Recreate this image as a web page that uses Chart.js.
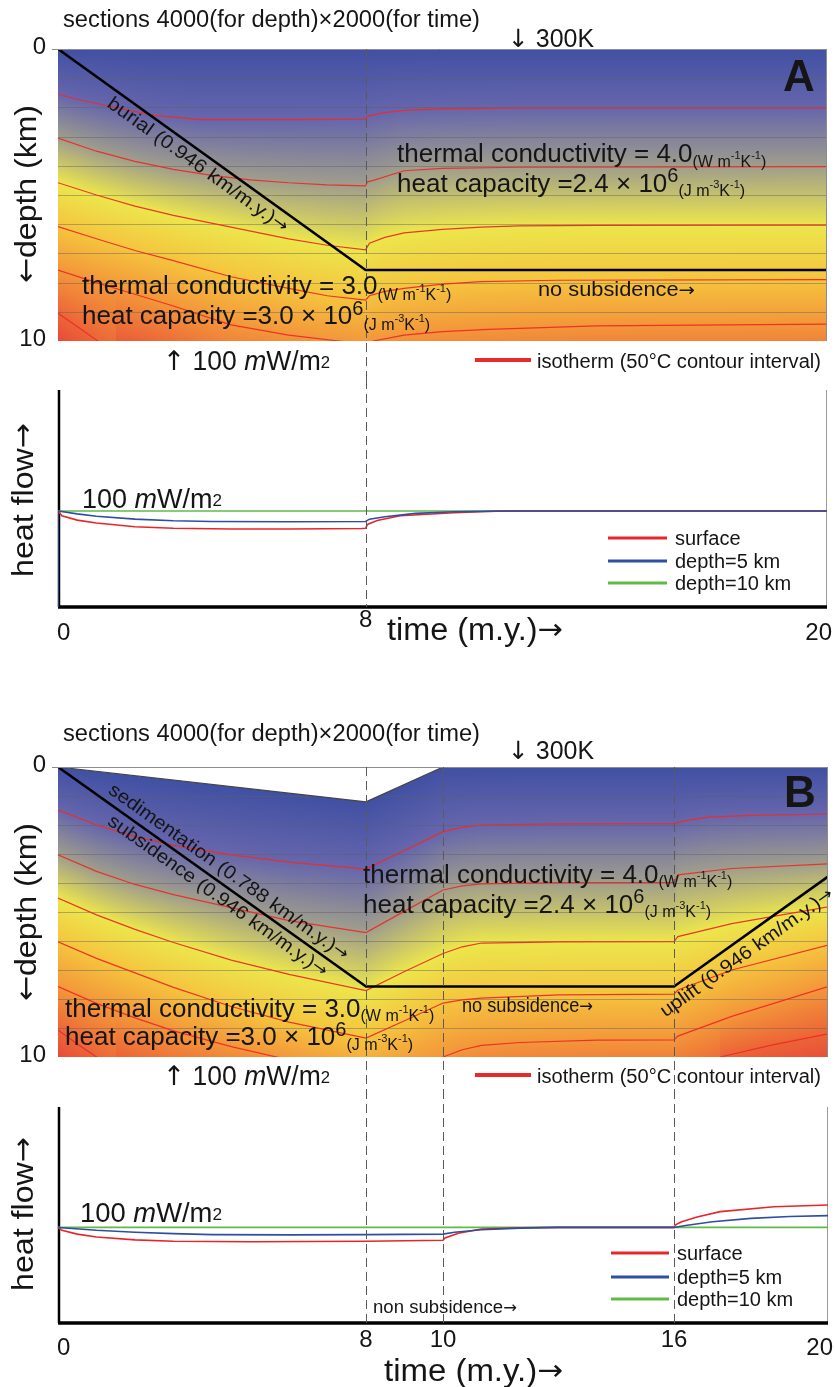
<!DOCTYPE html>
<html>
<head>
<meta charset="utf-8">
<script src="https://cdn.jsdelivr.net/npm/chart.js@4.4.1/dist/chart.umd.min.js"></script>
<style>
  html, body { margin: 0; padding: 0; background: #fff; }
  #page { position: relative; width: 835px; height: 1387px; overflow: hidden; }
  canvas { position: absolute; left: 0; }
</style>
</head>
<body>
<div id="page">
  <canvas id="depthA" width="835" height="380" style="top:0px"></canvas>
  <canvas id="flowA" width="835" height="300" style="top:380px"></canvas>
  <canvas id="depthB" width="835" height="410" style="top:680px"></canvas>
  <canvas id="flowB" width="835" height="297" style="top:1090px"></canvas>
</div>
<script>
// ---- panel A : isotherms, [time (m.y.), depth (km)] ----
const isoA1 = [[0,1.54],[0.5,1.72],[1.35,1.97],[2.5,2.27],[3.7,2.42],[6,2.42],[8,2.4],[8.05,2.3],[8.5,2.18],[9,2.1],[10,2.05],[12,2.02],[20,2.02]];
const isoA2 = [[0,3.05],[1,3.5],[2,3.85],[3,4.12],[4,4.33],[5,4.48],[6,4.58],[7,4.65],[8,4.69],[8.05,4.55],[8.2,4.5],[9,4.17],[10,4.09],[12,4.05],[20,4.03]];
const isoA3 = [[0,4.58],[1,5.0],[2,5.38],[3,5.7],[4.5,6.1],[6,6.5],[7,6.72],[8,6.88],[8.1,6.65],[8.5,6.45],[9,6.3],[10,6.18],[11,6.1],[12,6.06],[14,6.04],[20,6.03]];
const isoA4 = [[0,6.08],[1,6.5],[2,6.9],[3,7.25],[4.5,7.8],[6,8.2],[7,8.45],[8,8.6],[8.1,8.45],[8.5,8.3],[9,8.2],[10,8.05],[11,7.97],[13,7.92],[20,7.9]];
const isoA5 = [[0,7.57],[1,8.0],[2,8.4],[3,8.8],[4.5,9.45],[6,9.8],[7.3,10.0],[8,10.1],[8.2,10.0],[9,9.8],[10,9.68],[11.2,9.6],[14,9.48],[20,9.42]];
const isoA6 = [[0,9.05],[0.5,9.5],[1,9.97],[1.5,10.4]];
const burialA = [[0,0],[8,7.57],[20,7.57]];

// ---- panel B : isotherms ----
const isoB1 = [[0,1.48],[1,2.0],[2,2.4],[3,2.7],[4.5,3.03],[6,3.28],[8,3.52],[9,2.88],[10,2.23],[10.5,2.08],[11,2.0],[13,1.96],[16,1.95],[16.3,1.85],[16.9,1.73],[18,1.67],[20,1.62]];
const isoB2 = [[0,3.03],[1,3.6],[2,4.05],[3,4.4],[4.5,4.85],[6,5.3],[8,5.71],[9,4.97],[10,4.24],[10.5,4.1],[11,4.03],[13,3.99],[16,3.98],[16.1,3.72],[17.5,3.5],[20,3.34]];
const isoB3 = [[0,4.52],[1,5.1],[2,5.6],[3,6.05],[4.5,6.66],[6,7.15],[8,7.71],[9,7.05],[10,6.43],[10.5,6.2],[11,6.07],[13,6.03],[16,6.02],[16.1,5.85],[17.5,5.4],[20,4.82]];
const isoB4 = [[0,6.03],[1,6.6],[2,7.1],[3,7.6],[4.5,8.26],[6,8.8],[8,9.35],[9,8.75],[10,8.14],[10.5,8.03],[11,7.97],[13,7.86],[16,7.83],[16.1,7.69],[17.5,7.0],[20,6.14]];
const isoB5 = [[0,7.57],[1,8.15],[2,8.65],[3,9.1],[4.5,9.64],[6,10.1],[8,10.9],[9,10.45],[10,10.0],[10.5,9.75],[11,9.6],[12,9.5],[14,9.42],[16,9.41],[16.1,9.28],[17.5,8.6],[20,7.57]];
const isoB6a = [[0,9.07],[0.5,9.55],[1,10.0],[1.5,10.45]];
const isoB6b = [[17.2,10.0],[18.5,9.6],[20,9.2]];
const burialB = [[0,0],[8,7.57],[16,7.57],[20,3.78]];
const surfaceB = [[0,0],[8,1.2],[10,0],[20,0]];

// ---- heat flow (mW/m2) ----
const flowA_surface = [[0,100],[0.1,95],[0.5,90.5],[1,87.5],[2,83.5],[3,82],[4.5,81.3],[6,81.3],[7.9,81.8],[8,82],[8.05,86],[8.3,90],[8.9,95],[10.3,98.2],[11.4,99.7],[12,100],[20,100]];
const flowA_5km = [[0,0],[0,100],[0.5,97],[1,94.5],[2,91.5],[3,89.8],[4,89],[6,88.8],[8,89],[8.1,91.5],[8.5,94],[9.3,97.5],[10.3,99.2],[11.5,100],[20,100]];
const flowA_10km = [[0,100],[20,100]];
const flowB_surface = [[0,100],[0.1,97],[0.5,93],[1,90],[2,87],[3,85.5],[5,85],[8,85.5],[10,86.5],[10.05,89],[10.4,94],[11,98.3],[12,99.7],[13,100],[16,100],[16.05,103],[16.2,106],[16.6,111],[17.2,116.5],[18.6,121.7],[20,123.5]];
const flowB_5km = [[0,100],[1,97],[2,95],[3,93.5],[4,92.5],[6,92.2],[8,92.5],[10,93],[10.3,95],[11,97.5],[12,99.3],[13,100],[16,100],[16.3,102],[17,106],[18,109.5],[19,111.5],[20,112.3]];
const flowB_10km = [[0,100],[20,100]];

// ---- ticks / markers ----
const timeTicksA = [0, 8, 20];
const timeTicksB = [0, 8, 10, 16, 20];
const dashA = [8];
const dashB = [8, 10, 16];
const depthTicks = [0, 10];
const gridKm = [1, 2, 3, 4, 5, 6, 7, 8, 9];
const legendNames = ['surface', 'depth=5 km', 'depth=10 km'];

// temperature colour ramp (isotherm level -> colour)
const ramp = [[0,[65,80,163]],[0.5,[72,84,166]],[1,[102,102,172]],[2,[160,158,140]],[2.6,[210,206,100]],[3,[236,230,76]],[3.6,[243,226,70]],[4,[245,196,62]],[5,[243,150,58]],[6,[236,100,55]],[7,[230,58,56]]];

const RED = '#e8262a', BLUE = '#2d4ea3', GREEN = '#5fba46', ISO = 'rgba(236,44,40,0.95)';

const seg = (t, s, dy = 0, it = false, b = false) => ({t, s, dy, it, b});
const arr = (t, s, dy = 0) => ({t, s, dy, fam: '"DejaVu Sans", sans-serif'});
const fnt = g => (g.it ? 'italic ' : '') + (g.b ? 'bold ' : '') + g.s + 'px ' + (g.fam || '"Liberation Sans", Arial, sans-serif');

function put(ctx, segs, x, y, o = {}) {
  ctx.save();
  ctx.translate(x, y);
  if (o.rot) ctx.rotate(o.rot);
  let w = 0;
  segs.forEach(g => { ctx.font = fnt(g); g.w = ctx.measureText(g.t).width; w += g.w; });
  if (o.w) ctx.scale(o.w / w, 1);
  let cx = o.align === 'center' ? -w / 2 : o.align === 'right' ? -w : 0;
  ctx.textBaseline = o.base || 'alphabetic';
  ctx.fillStyle = o.color || '#151515';
  segs.forEach(g => { ctx.font = fnt(g); ctx.fillText(g.t, cx, g.dy); cx += g.w; });
  ctx.restore();
}

function at(pts, t) {
  if (t < pts[0][0] || t > pts[pts.length - 1][0]) return null;
  for (let i = 1; i < pts.length; i++) {
    if (t <= pts[i][0]) {
      const [t0, d0] = pts[i - 1], [t1, d1] = pts[i];
      return t1 === t0 ? d1 : d0 + (d1 - d0) * (t - t0) / (t1 - t0);
    }
  }
  return null;
}

function levelColor(lv) {
  lv = Math.max(0, Math.min(7, lv));
  for (let i = 1; i < ramp.length; i++) {
    if (lv <= ramp[i][0]) {
      const [l0, c0] = ramp[i - 1], [l1, c1] = ramp[i];
      const f = (lv - l0) / (l1 - l0);
      return 'rgb(' + c0.map((c, k) => Math.round(c + (c1[k] - c) * f)).join(',') + ')';
    }
  }
  return 'rgb(' + ramp[ramp.length - 1][1].join(',') + ')';
}

const pts = a => a.map(([x, y]) => ({x, y}));
const unitK = dy => [seg('(W m', 16, dy), seg('-1', 11, dy - 8), seg('K', 16, dy), seg('-1', 11, dy - 8), seg(')', 16, dy)];
const unitC = dy => [seg('(J m', 16, dy), seg('-3', 11, dy - 8), seg('K', 16, dy), seg('-1', 11, dy - 8), seg(')', 16, dy)];
const mW = s => [seg('100 ', s), seg('m', s, 0, true), seg('W/m', s), seg('2', 17, -2)];

function dashes(ctx, x, list, y0, y1) {
  ctx.save();
  ctx.strokeStyle = '#5a5a5a'; ctx.lineWidth = 1; ctx.setLineDash([9, 5]);
  list.forEach(t => {
    const px = Math.round(x.getPixelForValue(t)) + 0.5;
    ctx.beginPath(); ctx.moveTo(px, y0); ctx.lineTo(px, y1); ctx.stroke();
  });
  ctx.restore();
}

function lineLabel(ctx, x, y, a, b, t, d, off, text, w) {
  const ax = x.getPixelForValue(a[0]), ay = y.getPixelForValue(a[1]);
  const bx = x.getPixelForValue(b[0]), by = y.getPixelForValue(b[1]);
  const ang = Math.atan2(by - ay, bx - ax);
  const px = x.getPixelForValue(t) - Math.sin(ang) * off;
  const py = y.getPixelForValue(d) + Math.cos(ang) * off;
  put(ctx, [seg(text, 19), arr('→', 17)], px, py, {rot: ang, align: 'center', base: 'middle', w});
}

function fieldPlugin(isos, surface) {
  return {
    id: 'field',
    beforeDatasetsDraw(chart) {
      const {ctx, chartArea: a, scales: {x, y}} = chart;
      ctx.save();
      ctx.beginPath(); ctx.rect(a.left, a.top, a.right - a.left, a.bottom - a.top); ctx.clip();
      for (let px = a.left; px < a.right; px++) {
        const t = x.getValueForPixel(px + 0.5);
        const stops = [[surface ? at(surface, t) : 0, 0]];
        isos.forEach(iso => { const d = at(iso.pts, t); if (d !== null) stops.push([d, iso.level]); });
        stops.sort((p, q) => p[0] - q[0]);
        const n = stops.length;
        if (n > 1 && stops[n - 1][0] < 10) {
          const [dl, ll] = stops[n - 1], [dp, lp] = stops[n - 2];
          stops.push([10, ll + (10 - dl) / (dl - dp) * (ll - lp)]);
        }
        const y0 = y.getPixelForValue(stops[0][0]), y1 = y.getPixelForValue(stops[stops.length - 1][0]);
        const g = ctx.createLinearGradient(0, y0, 0, y1);
        stops.forEach(([d, lv]) => g.addColorStop(Math.max(0, Math.min(1, (y.getPixelForValue(d) - y0) / (y1 - y0))), levelColor(lv)));
        ctx.fillStyle = g;
        ctx.fillRect(px, y0, 1, a.bottom - y0 + 1);
      }
      ctx.strokeStyle = 'rgba(95,95,95,0.45)'; ctx.lineWidth = 1;
      gridKm.forEach(d => {
        const py = Math.round(y.getPixelForValue(d)) + 0.5;
        ctx.beginPath(); ctx.moveTo(a.left, py); ctx.lineTo(a.right, py); ctx.stroke();
      });
      ctx.restore();
    }
  };
}

function frame(ctx, a, color) {
  ctx.save();
  ctx.strokeStyle = color; ctx.lineWidth = 1;
  ctx.beginPath();
  ctx.moveTo(a.left - 6, Math.round(a.top) + 0.5); ctx.lineTo(a.right, Math.round(a.top) + 0.5);
  ctx.moveTo(Math.round(a.right) - 0.5, a.top); ctx.lineTo(Math.round(a.right) - 0.5, a.bottom);
  ctx.stroke();
  ctx.restore();
}

function flowAxes(chart) {
  const {ctx, chartArea: a} = chart;
  ctx.save();
  ctx.strokeStyle = '#9a9a9a'; ctx.lineWidth = 1;
  ctx.beginPath(); ctx.moveTo(Math.round(a.right) - 0.5, a.top); ctx.lineTo(Math.round(a.right) - 0.5, a.bottom); ctx.stroke();
  ctx.strokeStyle = '#000'; ctx.lineWidth = 2.5;
  ctx.beginPath(); ctx.moveTo(a.left + 1, a.top); ctx.lineTo(a.left + 1, a.bottom); ctx.stroke();
  ctx.lineWidth = 3.5;
  ctx.beginPath(); ctx.moveTo(a.left, a.bottom); ctx.lineTo(a.right, a.bottom); ctx.stroke();
  ctx.restore();
}

function legend(ctx, x0, x1, ys, tx) {
  [RED, BLUE, GREEN].forEach((c, i) => {
    ctx.save(); ctx.strokeStyle = c; ctx.lineWidth = 3;
    ctx.beginPath(); ctx.moveTo(x0, ys[i]); ctx.lineTo(x1, ys[i]); ctx.stroke(); ctx.restore();
    put(ctx, [seg(legendNames[i], 20)], tx, ys[i] + 7);
  });
}

function timeLabels(ctx, x, ticks, yEnd, yMid) {
  ticks.forEach((v, i) => {
    const px = x.getPixelForValue(v);
    const first = i === 0, last = i === ticks.length - 1;
    put(ctx, [seg(String(v), 24)], first ? px - 1 : last ? px + 5 : px, first || last ? yEnd : yMid,
      {align: first ? 'left' : last ? 'right' : 'center'});
  });
}

function depthLabels(ctx, y) {
  depthTicks.forEach(v => put(ctx, [seg(String(v), 24)], 46, y.getPixelForValue(v) - 2, {align: 'right', base: 'middle'}));
}

function makeChart(id, datasets, yMin, yMax, reverse, pad, plugins) {
  return new Chart(document.getElementById(id), {
    type: 'line',
    data: {datasets},
    options: {
      responsive: false, animation: false, events: [],
      layout: {padding: pad},
      scales: {
        x: {type: 'linear', min: 0, max: 20, display: false},
        y: {type: 'linear', min: yMin, max: yMax, reverse, display: false}
      },
      plugins: {legend: {display: false}, tooltip: {enabled: false}},
      elements: {point: {radius: 0}, line: {tension: 0}}
    },
    plugins
  });
}

const blk = (d, w = 2.6) => ({data: pts(d), borderColor: '#000', borderWidth: w});
const iso = d => ({data: pts(d), borderColor: ISO, borderWidth: 1.2});
const hf = (d, c) => ({data: pts(d), borderColor: c, borderWidth: 1.6});

const title = [seg('sections 4000(for depth)×2000(for time)', 23)];
const depthTitle = [arr('←', 28, -1), seg('depth (km)', 30)];
const flowTitle = [seg('heat flow', 30), arr('→', 28, -1)];
const timeTitle = [seg('time (m.y.)', 31), arr('→', 29, -1)];
const k300 = [arr('↓', 25), seg(' 300K', 25)];
const up100 = [arr('↑', 27), seg(' ', 27), ...mW(27)];
const isoLabel = [seg('isotherm (50°C contour interval)', 20)];

function isoLegend(ctx, y) {
  ctx.save(); ctx.strokeStyle = '#ea2a2a'; ctx.lineWidth = 4;
  ctx.beginPath(); ctx.moveTo(475, y); ctx.lineTo(531, y); ctx.stroke(); ctx.restore();
  put(ctx, isoLabel, 537, y + 8, {w: 284});
}

// ---------- A : depth section ----------
const isosA = [isoA1, isoA2, isoA3, isoA4, isoA5, isoA6].map((p, i) => ({pts: p, level: i + 1}));
makeChart('depthA', [blk(burialA), ...isosA.map(s => iso(s.pts))], 0, 10, true,
  {left: 58, right: 8, top: 49, bottom: 39},
  [fieldPlugin(isosA, null), {
    id: 'textA',
    afterDatasetsDraw(chart) {
      const {ctx, chartArea: a, scales: {x, y}} = chart;
      frame(ctx, a, '#8c8c8c');
      dashes(ctx, x, dashA, a.top, 380);
      put(ctx, title, 63, 27, {w: 417});
      depthLabels(ctx, y);
      put(ctx, depthTitle, 36, 194, {rot: -Math.PI / 2, align: 'center', w: 178});
      put(ctx, k300, 508, 47, {w: 86});
      put(ctx, [seg('A', 44, 0, false, true)], 783, 91);
      put(ctx, [seg('thermal conductivity = 4.0', 26), ...unitK(5)], 397, 162);
      put(ctx, [seg('heat capacity =2.4 × 10', 26), seg('6', 20, -10), ...unitC(4)], 397, 192);
      put(ctx, [seg('thermal conductivity = 3.0', 26), ...unitK(6)], 82, 294);
      put(ctx, [seg('heat capacity =3.0 × 10', 26), seg('6', 20, -9), ...unitC(6)], 82, 324);
      lineLabel(ctx, x, y, burialA[0], burialA[1], 3.83, 3.62, 13, 'burial (0.946 km/m.y.)', 218);
      put(ctx, [seg('no subsidence', 20), arr('→', 18)], 538, 296, {w: 157});
      put(ctx, up100, 163, 370, {w: 167});
      isoLegend(ctx, 360);
    }
  }]);

// ---------- A : heat flow ----------
makeChart('flowA', [hf(flowA_5km, BLUE), hf(flowA_surface, RED), hf(flowA_10km, GREEN)], 0, 226, false,
  {left: 58, right: 8, top: 10, bottom: 73},
  [{
    id: 'flowA',
    beforeDatasetsDraw: flowAxes,
    afterDatasetsDraw(chart) {
      const {ctx, chartArea: a, scales: {x}} = chart;
      const T = 380;
      dashes(ctx, x, dashA, 0, a.bottom);
      put(ctx, flowTitle, 33, 500 - T, {rot: -Math.PI / 2, align: 'center', w: 154});
      put(ctx, mW(27), 82, 508 - T, {w: 140});
      legend(ctx, 608, 667, [538 - T, 561 - T, 583 - T], 675);
      timeLabels(ctx, x, timeTicksA, 640 - T, 627 - T);
      put(ctx, timeTitle, 387, 640 - T, {w: 176});
    }
  }]);

// ---------- B : depth section ----------
const isosB = [[isoB1, 1], [isoB2, 2], [isoB3, 3], [isoB4, 4], [isoB5, 5], [isoB6a, 6], [isoB6b, 6]].map(([p, l]) => ({pts: p, level: l}));
makeChart('depthB', [blk(burialB), ...isosB.map(s => iso(s.pts)),
  {data: pts(surfaceB), borderColor: '#444', borderWidth: 1.2, fill: {value: 0}, backgroundColor: '#fff'}], 0, 10, true,
  {left: 58, right: 7, top: 87, bottom: 33},
  [fieldPlugin(isosB, surfaceB), {
    id: 'textB',
    afterDatasetsDraw(chart) {
      const {ctx, chartArea: a, scales: {x, y}} = chart;
      const T = 680;
      frame(ctx, a, '#8c8c8c');
      dashes(ctx, x, dashB, a.top, 410);
      put(ctx, title, 63, 741 - T, {w: 417});
      depthLabels(ctx, y);
      put(ctx, depthTitle, 36, 912 - T, {rot: -Math.PI / 2, align: 'center', w: 178});
      put(ctx, k300, 508, 759 - T, {w: 86});
      put(ctx, [seg('B', 44, 0, false, true)], 784, 807 - T);
      put(ctx, [seg('thermal conductivity = 4.0', 26), ...unitK(4)], 363, 883 - T);
      put(ctx, [seg('heat capacity =2.4 × 10', 26), seg('6', 20, -10), ...unitC(4)], 363, 913 - T);
      put(ctx, [seg('thermal conductivity = 3.0', 26), ...unitK(4)], 65, 1017 - T);
      put(ctx, [seg('heat capacity =3.0 × 10', 26), seg('6', 20, -9), ...unitC(5)], 65, 1045 - T);
      lineLabel(ctx, x, y, burialB[0], burialB[1], 4.23, 4.0, -13, 'sedimentation (0.788 km/m.y.)', 290);
      lineLabel(ctx, x, y, burialB[0], burialB[1], 4.34, 4.1, 13, 'subsidence (0.946 km/m.y.)', 265);
      lineLabel(ctx, x, y, burialB[2], burialB[3], 17.67, 5.99, 15, 'uplift (0.946 km/m.y.)', 208);
      put(ctx, [seg('no subsidence', 20), arr('→', 18)], 462, 1012 - T, {w: 131});
      put(ctx, up100, 163, 1085 - T, {w: 167});
      isoLegend(ctx, 1075 - T);
    }
  }]);

// ---------- B : heat flow ----------
makeChart('flowB', [hf(flowB_5km, BLUE), hf(flowB_surface, RED), hf(flowB_10km, GREEN)], 0, 226, false,
  {left: 58, right: 7, top: 17, bottom: 64},
  [{
    id: 'flowB',
    beforeDatasetsDraw: flowAxes,
    afterDatasetsDraw(chart) {
      const {ctx, chartArea: a, scales: {x}} = chart;
      const T = 1090;
      dashes(ctx, x, dashB, 0, a.bottom);
      put(ctx, flowTitle, 33, 1214 - T, {rot: -Math.PI / 2, align: 'center', w: 154});
      put(ctx, mW(27), 80, 1222 - T, {w: 142});
      legend(ctx, 611, 669, [1253 - T, 1277 - T, 1299 - T], 677);
      put(ctx, [seg('non subsidence', 18), arr('→', 16)], 373, 1313 - T, {w: 144});
      timeLabels(ctx, x, timeTicksB, 1355 - T, 1347 - T);
      put(ctx, timeTitle, 384, 1381 - T, {w: 179});
    }
  }]);
</script>
</body>
</html>
